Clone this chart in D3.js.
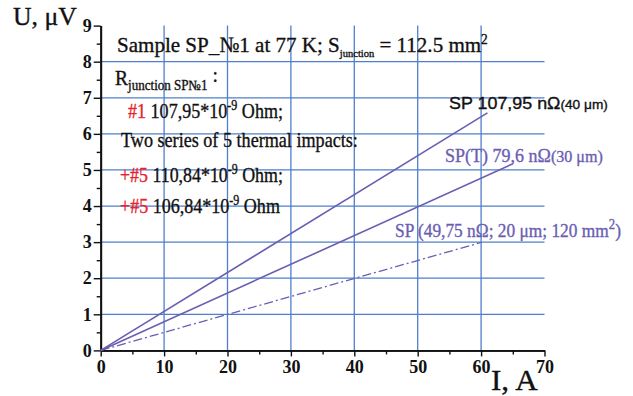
<!DOCTYPE html>
<html>
<head>
<meta charset="utf-8">
<script src="https://cdn.jsdelivr.net/npm/d3@7"></script>
<style>
  body { margin: 0; background: #fff; }
  svg { display: block; }
</style>
</head>
<body>
<div id="chart"></div>
<script>
var width = 633,
    height = 396;

// values: I (A) and U (uV) at the ends of each line
var sp1I = [0, 61],   sp1U = [0, 6.58];   // SP 107,95 nOhm
var spTI = [0, 65],   spTU = [0, 5.17];   // SP(T) 79,6 nOhm
var sp2I = [0, 60],   sp2U = [0, 2.99];   // SP 49,75 nOhm (dash-dot)

var xTicks = [0, 10, 20, 30, 40, 50, 60, 70];
var xMinor = [5, 15, 25, 35, 45, 55, 65];
var yTicks = [0, 1, 2, 3, 4, 5, 6, 7, 8, 9];
var yMinor = [0.5, 1.5, 2.5, 3.5, 4.5, 5.5, 6.5, 7.5, 8.5];
var xGrid = [10, 20, 30, 40, 50, 60];
var yGrid = [1, 2, 3, 4, 5, 6, 7, 8];

var purple = "#6a5eb3",
    gridBlue = "#4f7fcc",
    red = "#e8222c",
    serif = "'Liberation Serif', 'Times New Roman', serif",
    sans = "'Liberation Sans', Arial, sans-serif";

var x = d3.scaleLinear().domain([0, 70]).range([100.7, 544.5]);
var y = d3.scaleLinear().domain([0, 9]).range([350.4, 25.6]);

var svg = d3.select("#chart").append("svg")
    .attr("width", width)
    .attr("height", height);

// grid
svg.selectAll(".vgrid").data(xGrid).enter().append("line")
    .attr("x1", function(d) { return x(d); })
    .attr("x2", function(d) { return x(d); })
    .attr("y1", y(0)).attr("y2", y(9))
    .style("stroke", gridBlue).style("stroke-width", 1.3);
svg.selectAll(".hgrid").data(yGrid).enter().append("line")
    .attr("x1", x(0)).attr("x2", x(70))
    .attr("y1", function(d) { return y(d); })
    .attr("y2", function(d) { return y(d); })
    .style("stroke", gridBlue).style("stroke-width", 1.3);

// axes
var xAxis = svg.append("g")
    .attr("transform", "translate(0," + y(0) + ")")
    .call(d3.axisBottom(x).tickValues(xTicks).tickSize(6).tickSizeOuter(0).tickPadding(5));
var xAxisMinor = svg.append("g")
    .attr("transform", "translate(0," + y(0) + ")")
    .call(d3.axisBottom(x).tickValues(xMinor).tickSize(4).tickSizeOuter(0).tickFormat(""));
var yAxis = svg.append("g")
    .attr("transform", "translate(" + x(0) + ",0)")
    .call(d3.axisLeft(y).tickValues(yTicks).tickSize(7).tickSizeOuter(0).tickPadding(2));
var yAxisMinor = svg.append("g")
    .attr("transform", "translate(" + x(0) + ",0)")
    .call(d3.axisLeft(y).tickValues(yMinor).tickSize(4).tickSizeOuter(0).tickFormat(""));

svg.selectAll(".domain").style("stroke", "#111").style("stroke-width", 1.8);
svg.selectAll(".tick line").style("stroke", "#111").style("stroke-width", 1.4);
svg.selectAll(".tick text")
    .style("font-family", serif)
    .style("font-weight", "bold")
    .style("font-size", "18px")
    .style("fill", "#111");
xAxis.selectAll(".tick text").attr("y", 10);

// lines
var line = d3.line()
    .x(function(d) { return x(d[0]); })
    .y(function(d) { return y(d[1]); });

function pairs(a, b) { return a.map(function(v, i) { return [v, b[i]]; }); }

svg.append("path").datum(pairs(sp1I, sp1U))
    .attr("d", line).style("fill", "none").style("stroke", purple).style("stroke-width", 1.6);
svg.append("path").datum(pairs(spTI, spTU))
    .attr("d", line).style("fill", "none").style("stroke", purple).style("stroke-width", 1.6);
svg.append("path").datum(pairs(sp2I, sp2U))
    .attr("d", line).style("fill", "none").style("stroke", purple).style("stroke-width", 1.3)
    .style("stroke-dasharray", "9,3,2,3");

// text helper: squeeze a text element to the width it has in the picture
function fit(t, px, py, w) {
  var bw = t.node().getBBox().width;
  t.attr("transform", "translate(" + px + "," + py + ") scale(" + (w / bw) + ",1)");
}
function label(size, family, color) {
  return svg.append("text")
      .style("font-family", family || serif)
      .style("font-size", size + "px")
      .style("fill", color || "#111")
      .style("stroke", color || "#111")
      .style("stroke-width", 0.35);
}

// axis titles
var uLab = label(26);
uLab.text("U, μV");
fit(uLab, 13, 24.5, 64);

var iLab = label(30);
iLab.text("I, A");
fit(iLab, 491, 389.5, 47);

// title
var t1 = label(22);
t1.append("tspan").text("Sample SP_№1 at 77 K; S");
t1.append("tspan").attr("dy", 5).style("font-size", "11px").text("junction");
t1.append("tspan").attr("dy", -5).text(" = 112.5 mm");
t1.append("tspan").attr("dy", -8).style("font-size", "14px").text("2");
fit(t1, 117, 52, 371);

var t2 = label(21);
t2.append("tspan").text("R");
t2.append("tspan").attr("dy", 5).style("font-size", "14px").text("junction SP№1");
t2.append("tspan").attr("dy", -8).text(" :");
fit(t2, 115, 85, 103);

var t3 = label(21);
t3.append("tspan").style("fill", red).style("stroke", red).text("#1 ");
t3.append("tspan").text("107,95*10");
t3.append("tspan").attr("dy", -8).style("font-size", "14px").text("-9");
t3.append("tspan").attr("dy", 8).text(" Ohm;");
fit(t3, 128, 118, 155);

var t4 = label(21);
t4.text("Two series of 5 thermal impacts:");
fit(t4, 121, 147, 237);

var t5 = label(21);
t5.append("tspan").style("fill", red).style("stroke", red).text("+#5 ");
t5.append("tspan").text("110,84*10");
t5.append("tspan").attr("dy", -8).style("font-size", "14px").text("-9");
t5.append("tspan").attr("dy", 8).text(" Ohm;");
fit(t5, 120, 182, 163);

var t6 = label(21);
t6.append("tspan").style("fill", red).style("stroke", red).text("+#5 ");
t6.append("tspan").text("106,84*10");
t6.append("tspan").attr("dy", -8).style("font-size", "14px").text("-9");
t6.append("tspan").attr("dy", 8).text(" Ohm");
fit(t6, 120, 213, 160);

// series labels
var l1 = label(17, sans, "#111");
l1.append("tspan").text("SP 107,95 nΩ");
l1.append("tspan").style("font-size", "13px").text("(40 μm)");
fit(l1, 449, 109, 159);

var l2 = label(19, serif, purple);
l2.append("tspan").text("SP(T) 79,6 nΩ");
l2.append("tspan").style("font-size", "17px").text("(30 μm)");
fit(l2, 445, 161.5, 158);

var l3 = label(19, serif, purple);
l3.append("tspan").text("SP (49,75 nΩ; 20 μm; 120 mm");
l3.append("tspan").attr("dy", -8).style("font-size", "14px").text("2");
l3.append("tspan").attr("dy", 8).text(")");
fit(l3, 395, 237, 226);
</script>
</body>
</html>
